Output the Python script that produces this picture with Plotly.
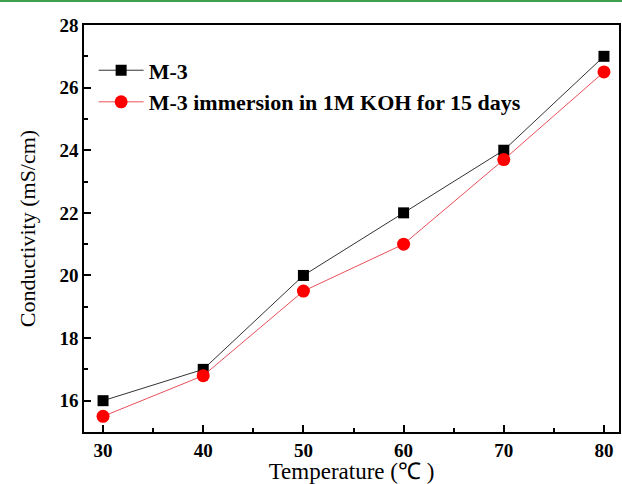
import plotly.graph_objects as go

temps = [30, 40, 50, 60, 70, 80]
m3 = [16, 17, 20, 22, 24, 27]
m3_koh = [15.5, 16.8, 19.5, 21, 23.7, 26.5]
name1 = "M-3"
name2 = "M-3 immersion in 1M KOH for 15 days"
xtitle = "Temperature (℃ )"
ytitle = "Conductivity (mS/cm)"

fig = go.Figure()
fig.add_trace(go.Scatter(x=temps, y=m3, name=name1, mode="lines+markers",
                         line=dict(color="#333333", width=1),
                         marker=dict(symbol="square", size=11, color="black")))
fig.add_trace(go.Scatter(x=temps, y=m3_koh, name=name2, mode="lines+markers",
                         line=dict(color="#e8505a", width=1),
                         marker=dict(symbol="circle", size=13, color="#ff0000")))

font_serif = "Liberation Serif, Times New Roman, serif"
fig.update_layout(
    width=622, height=484,
    margin=dict(l=84, r=1, t=25, b=52),
    paper_bgcolor="white", plot_bgcolor="white",
    showlegend=True,
    legend=dict(x=0.018, y=0.94, xanchor="left", yanchor="top",
                bgcolor="rgba(0,0,0,0)", borderwidth=0,
                font=dict(family=font_serif, size=22, color="black", weight="bold"),
                itemwidth=45, tracegroupgap=0),
    font=dict(family=font_serif, color="black"),
)
fig.update_xaxes(
    range=[28.1, 81.5], tickvals=[30, 40, 50, 60, 70, 80],
    ticks="inside", ticklen=7, tickwidth=1.5, tickcolor="black",
    minor=dict(ticks="inside", ticklen=4, dtick=5, tick0=30, tickwidth=1.5, tickcolor="black"),
    showline=True, linecolor="black", linewidth=1.5, mirror=True,
    showgrid=False, zeroline=False,
    tickfont=dict(family=font_serif, size=19, color="black", weight="bold"),
    title=dict(text=xtitle, font=dict(family=font_serif, size=23, color="black"), standoff=0),
)
fig.update_yaxes(
    range=[15, 28], tickvals=[16, 18, 20, 22, 24, 26, 28],
    ticks="inside", ticklen=7, tickwidth=1.5, tickcolor="black",
    minor=dict(ticks="inside", ticklen=4, dtick=1, tick0=15, tickwidth=1.5, tickcolor="black"),
    showline=True, linecolor="black", linewidth=1.5, mirror=True,
    showgrid=False, zeroline=False,
    tickfont=dict(family=font_serif, size=19, color="black", weight="bold"),
    title=dict(text=ytitle, font=dict(family=font_serif, size=22, color="black"), standoff=18),
)
fig.add_shape(type="line", xref="paper", yref="paper", x0=-0.3, x1=1.3,
              y0=1.059, y1=1.059, line=dict(color="#3f9f4f", width=2))

fig.write_html("out.html")
